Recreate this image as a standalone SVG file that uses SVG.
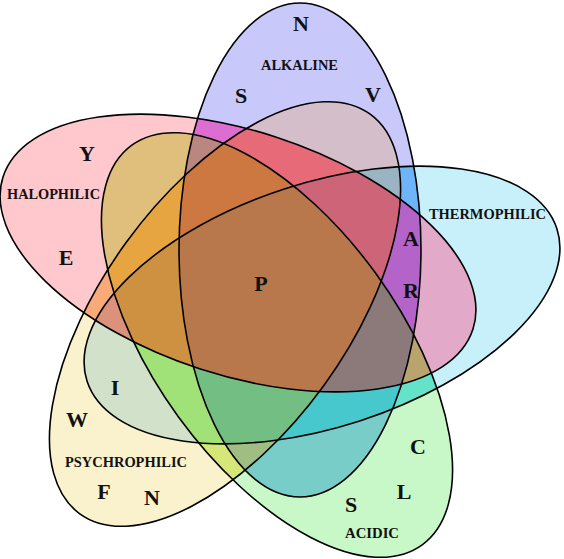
<svg xmlns="http://www.w3.org/2000/svg" xmlns:xlink="http://www.w3.org/1999/xlink" width="564" height="559" viewBox="0 0 564 559">
<style>
.o{fill:none;stroke:#000;stroke-width:1.6}
.l{font-family:"Liberation Serif","Times New Roman",serif;font-weight:bold;font-size:22px;text-anchor:middle;fill:#111}
.n{font-family:"Liberation Serif","Times New Roman",serif;font-weight:bold;font-size:14.5px;fill:#111}
</style>
<defs>
<ellipse id="eB" cx="300" cy="250" rx="121" ry="247"/>
<ellipse id="eH" cx="238" cy="253" rx="247" ry="122" transform="rotate(18 238 253)"/>
<ellipse id="eT" cx="322" cy="305" rx="247" ry="122" transform="rotate(-18 322 305)"/>
<ellipse id="eG" cx="277" cy="345" rx="247" ry="122" transform="rotate(54 277 345)"/>
<ellipse id="eY" cx="225" cy="314" rx="247" ry="122" transform="rotate(-54 225 314)"/>
<clipPath id="cB"><use href="#eB"/></clipPath>
<clipPath id="cH"><use href="#eH"/></clipPath>
<clipPath id="cT"><use href="#eT"/></clipPath>
<clipPath id="cG"><use href="#eG"/></clipPath>
<clipPath id="cY"><use href="#eY"/></clipPath>
</defs>
<rect width="564" height="559" fill="#fff"/>
<g id="regions">
<use href="#eH" fill="#FFC8CD"/>
<use href="#eB" fill="#C8C8FA"/>
<use href="#eT" fill="#C8F0FA"/>
<use href="#eG" fill="#C8F8C8"/>
<use href="#eY" fill="#FAF2CD"/>
<g clip-path="url(#cB)"><use href="#eH" fill="#DC6ED2"/><use href="#eT" fill="#6EB4F8"/><use href="#eG" fill="#78CDC8"/><use href="#eY" fill="#D4BECA"/></g>
<g clip-path="url(#cH)"><use href="#eT" fill="#E2AAC8"/><use href="#eG" fill="#E0BF7D"/><use href="#eY" fill="#F8AA78"/></g>
<g clip-path="url(#cT)"><use href="#eG" fill="#64E3C8"/><use href="#eY" fill="#D2E2CA"/></g>
<g clip-path="url(#cG)"><use href="#eY" fill="#D7E678"/></g>
<g clip-path="url(#cB)">
<g clip-path="url(#cH)"><use href="#eT" fill="#B464C8"/><use href="#eG" fill="#B98680"/><use href="#eY" fill="#E66A78"/></g>
<g clip-path="url(#cT)"><use href="#eG" fill="#46C8CD"/><use href="#eY" fill="#9BB4C3"/></g>
<g clip-path="url(#cG)"><use href="#eY" fill="#A0BE84"/></g>
</g>
<g clip-path="url(#cH)">
<g clip-path="url(#cT)"><use href="#eG" fill="#B9A46E"/><use href="#eY" fill="#DC917D"/></g>
<g clip-path="url(#cG)"><use href="#eY" fill="#E6A541"/></g>
</g>
<g clip-path="url(#cT)"><g clip-path="url(#cG)"><use href="#eY" fill="#A0E178"/></g></g>
<g clip-path="url(#cB)">
<g clip-path="url(#cH)">
<g clip-path="url(#cT)"><use href="#eG" fill="#8C7A7A"/><use href="#eY" fill="#CD6478"/></g>
<g clip-path="url(#cG)"><use href="#eY" fill="#CD7841"/></g>
</g>
<g clip-path="url(#cT)"><g clip-path="url(#cG)"><use href="#eY" fill="#73BE82"/></g></g>
</g>
<g clip-path="url(#cH)"><g clip-path="url(#cT)"><g clip-path="url(#cG)"><use href="#eY" fill="#CD9141"/></g></g></g>
<g clip-path="url(#cB)"><g clip-path="url(#cH)"><g clip-path="url(#cT)"><g clip-path="url(#cG)"><use href="#eY" fill="#B9784B"/></g></g></g></g>
</g>
<g id="halophilic">
<use href="#eH" class="o"/>
<text class="n" x="7" y="199" textLength="93" lengthAdjust="spacingAndGlyphs">HALOPHILIC</text>
<text class="l" x="87" y="161">Y</text>
<text class="l" x="66" y="265">E</text>
</g>
<g id="alkaline">
<use href="#eB" class="o"/>
<text class="n" x="261" y="70" textLength="77" lengthAdjust="spacingAndGlyphs">ALKALINE</text>
<text class="l" x="301" y="31">N</text>
<text class="l" x="241" y="103">S</text>
<text class="l" x="373" y="102">V</text>
</g>
<g id="thermophilic">
<use href="#eT" class="o"/>
<text class="n" x="429" y="219" textLength="117" lengthAdjust="spacingAndGlyphs">THERMOPHILIC</text>
<text class="l" x="411" y="246">A</text>
<text class="l" x="411" y="298">R</text>
</g>
<g id="acidic">
<use href="#eG" class="o"/>
<text class="n" x="345" y="538" textLength="54" lengthAdjust="spacingAndGlyphs">ACIDIC</text>
<text class="l" x="418" y="454">C</text>
<text class="l" x="404" y="499">L</text>
<text class="l" x="351" y="512">S</text>
</g>
<g id="psychrophilic">
<use href="#eY" class="o"/>
<text class="n" x="65" y="467" textLength="122" lengthAdjust="spacingAndGlyphs">PSYCHROPHILIC</text>
<text class="l" x="115" y="395">I</text>
<text class="l" x="77" y="427">W</text>
<text class="l" x="104" y="499">F</text>
<text class="l" x="152" y="505">N</text>
</g>
<g id="core">
<text class="l" x="261" y="291">P</text>
</g>
</svg>
